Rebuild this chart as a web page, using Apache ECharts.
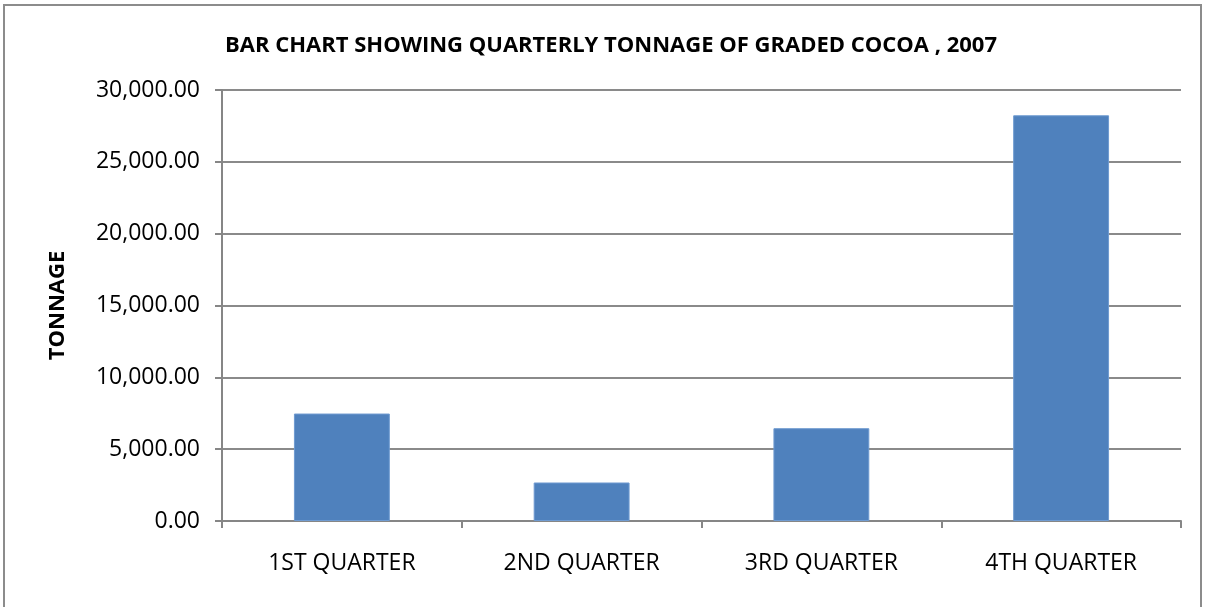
<!DOCTYPE html>
<html>
<head>
<meta charset="utf-8">
<script src="https://cdn.jsdelivr.net/npm/echarts@6/dist/echarts.min.js"></script>
<style>
  html, body { margin: 0; padding: 0; background: #fff; }
  #frame { position: absolute; left: 3px; top: 4px; width: 1199px; height: 610px; border: 2px solid #8c8c8c; box-sizing: border-box; }
  #main { position: absolute; left: 0; top: 0; width: 1208px; height: 607px; }
</style>
</head>
<body>
<div id="frame"></div>
<div id="main"></div>
<script>
// quarterly tonnage of graded cocoa, 2007
var quarters = ['1ST QUARTER', '2ND QUARTER', '3RD QUARTER', '4TH QUARTER'];
var tonnage = [7480, 2680, 6460, 28240];

var chart = echarts.init(document.getElementById('main'));
var fontFam = '"Open Sans", sans-serif';

chart.setOption({
    animation: false,
    title: {
        text: 'BAR CHART SHOWING QUARTERLY TONNAGE OF GRADED COCOA , 2007',
        left: 606,
        top: 30,
        textAlign: 'center',
        textStyle: { fontFamily: fontFam, fontWeight: 'bold', fontSize: 22, color: '#000' }
    },
    grid: { left: 222, right: 27, top: 90, bottom: 86 },
    xAxis: {
        type: 'category',
        data: quarters,
        axisLine: { lineStyle: { color: '#868686', width: 2 } },
        axisTick: { show: true, length: 7, lineStyle: { color: '#868686', width: 2 } },
        axisLabel: { fontFamily: fontFam, fontSize: 23, color: '#000', margin: 31 }
    },
    yAxis: {
        type: 'value',
        min: 0,
        max: 30000,
        interval: 5000,
        name: 'TONNAGE',
        nameLocation: 'middle',
        nameGap: 153,
        nameTextStyle: { fontFamily: fontFam, fontWeight: 'bold', fontSize: 22, color: '#000' },
        axisLine: { show: true, lineStyle: { color: '#868686', width: 2 } },
        axisTick: { show: true, length: 7, lineStyle: { color: '#868686', width: 2 } },
        splitLine: { lineStyle: { color: '#8a8a8a', width: 2 } },
        axisLabel: {
            fontFamily: fontFam, fontSize: 23, color: '#000', margin: 22,
            formatter: function (v) {
                return v.toLocaleString('en-US', { minimumFractionDigits: 2, maximumFractionDigits: 2 });
            }
        }
    },
    series: [{
        type: 'bar',
        data: tonnage,
        barWidth: '40%',
        itemStyle: { color: '#4f81bd', borderColor: '#6f9bd1', borderWidth: 1 }
    }]
});
</script>
</body>
</html>
